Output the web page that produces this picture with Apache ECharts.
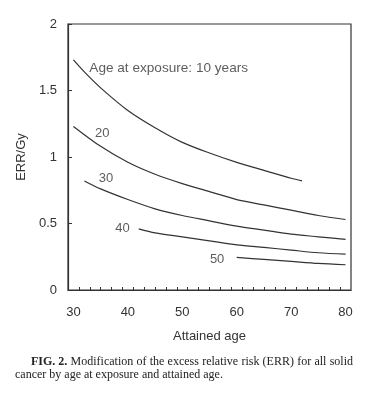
<!DOCTYPE html>
<html>
<head>
<meta charset="utf-8">
<script src="https://cdn.jsdelivr.net/npm/echarts@6/dist/echarts.min.js"></script>
<style>
html,body{margin:0;padding:0;background:#fff;}
#chart{width:370px;height:394px;}
</style>
</head>
<body>
<div id="chart"></div>
<script>
// ---- data ----
const ages10 = [30, 32, 35, 40, 45, 50, 55, 60, 65, 70, 72];
const err10  = [1.73, 1.64, 1.52, 1.35, 1.22, 1.11, 1.03, 0.96, 0.90, 0.84, 0.82];
const ages20 = [30, 35, 40, 45, 50, 55, 60, 65, 70, 75, 80];
const err20  = [1.23, 1.08, 0.96, 0.87, 0.80, 0.74, 0.68, 0.64, 0.60, 0.56, 0.53];
const ages30 = [32, 35, 40, 45, 50, 55, 60, 65, 70, 75, 80];
const err30  = [0.82, 0.76, 0.68, 0.61, 0.56, 0.52, 0.48, 0.45, 0.42, 0.40, 0.38];
const ages40 = [42, 45, 50, 55, 60, 65, 70, 75, 80];
const err40  = [0.46, 0.43, 0.40, 0.37, 0.34, 0.32, 0.30, 0.28, 0.27];
const ages50 = [60, 65, 70, 75, 80];
const err50  = [0.245, 0.23, 0.215, 0.20, 0.19];

const curveNames = ['10', '20', '30', '40', '50'];
const labelTexts = ['Age at exposure: 10 years', '20', '30', '40', '50'];
const labelAges  = [47.5, 35.3, 36.0, 39.0, 56.4];
const labelErr   = [1.67, 1.18, 0.84, 0.46, 0.233];

const xTickLabels = [30, 40, 50, 60, 70, 80];
const xMinorTicks = [31, 33, 35, 37, 39, 41, 43, 45, 47, 49, 51, 53, 55, 57, 59, 61, 63, 65, 67, 69, 71, 73, 75, 77, 79];
const yTickLabels = [0, 0.5, 1, 1.5, 2];

const xTitle = 'Attained age';
const yTitle = 'ERR/Gy';
const captionBold = 'FIG. 2.';
const captionLine1 = 'Modification of the excess relative risk (ERR) for all solid';
const captionLine2 = 'cancer by age at exposure and attained age.';

// ---- chart ----
const ink = '#333';
const sans = 'Liberation Sans, Arial, sans-serif';
const serif = 'Liberation Serif, Times New Roman, serif';

function pairs(a, v) { return a.map((x, i) => [x, v[i]]); }
const allAges = [ages10, ages20, ages30, ages40, ages50];
const allErr = [err10, err20, err30, err40, err50];

const lineSeries = curveNames.map((n, i) => ({
  name: n,
  type: 'line',
  data: pairs(allAges[i], allErr[i]),
  smooth: 0.3,
  symbol: 'none',
  lineStyle: { color: ink, width: 1.2 },
  silent: true
}));

// justified first caption line (as in the printed figure)
const capSize = 12;
const capLeft1 = 31, capRight1 = 353;
const mctx = document.createElement('canvas').getContext('2d');
const words = [{ t: captionBold, bold: true }].concat(captionLine1.split(' ').map(t => ({ t, bold: false })));
const widths = words.map(w => {
  mctx.font = (w.bold ? 'bold ' : '') + capSize + 'px ' + serif;
  return mctx.measureText(w.t).width;
});
const totalW = widths.reduce((a, b) => a + b, 0);
const gap = Math.max(2, (capRight1 - capLeft1 - totalW) / (words.length - 1));
const captionGraphics = [];
let cx = capLeft1;
words.forEach((w, i) => {
  captionGraphics.push({
    type: 'text', x: cx, y: 362,
    style: { text: w.t, font: (w.bold ? 'bold ' : '') + capSize + 'px ' + serif, fill: '#222', verticalAlign: 'middle' }
  });
  cx += widths[i] + gap;
});
captionGraphics.push({
  type: 'text', x: 15, y: 375,
  style: { text: captionLine2, font: capSize + 'px ' + serif, fill: '#222', verticalAlign: 'middle' }
});

const chart = echarts.init(document.getElementById('chart'), null, { renderer: 'canvas' });
chart.setOption({
  animation: false,
  backgroundColor: '#fff',
  grid: {
    left: 68, top: 24, right: 19, bottom: 104,
    show: true, borderColor: ink, borderWidth: 1.2, backgroundColor: 'transparent'
  },
  xAxis: {
    type: 'value', min: 29, max: 81,
    name: xTitle, nameLocation: 'middle', nameGap: 40,
    nameTextStyle: { fontFamily: sans, fontSize: 13, color: ink },
    axisLine: { show: true, lineStyle: { color: ink, width: 1.2 } },
    axisTick: { show: true, inside: true, length: 3, customValues: xMinorTicks, lineStyle: { color: ink, width: 1 } },
    axisLabel: { customValues: xTickLabels, fontFamily: sans, fontSize: 13, color: ink, margin: 16 },
    splitLine: { show: false }
  },
  yAxis: {
    type: 'value', min: 0, max: 2, interval: 0.5,
    name: yTitle, nameLocation: 'middle', nameGap: 38, nameRotate: 90,
    nameTextStyle: { fontFamily: sans, fontSize: 13, color: ink },
    axisLine: { show: true, lineStyle: { color: ink, width: 1.2 } },
    axisTick: { show: true, inside: true, length: 4, customValues: yTickLabels, lineStyle: { color: ink, width: 1 } },
    axisLabel: { customValues: yTickLabels, fontFamily: sans, fontSize: 13, color: ink, margin: 11 },
    splitLine: { show: false }
  },
  series: lineSeries.concat([{
    type: 'scatter',
    symbolSize: 0,
    silent: true,
    data: labelTexts.map((t, i) => ({
      value: [labelAges[i], labelErr[i]], name: t,
      label: i === 0 ? { fontSize: 13.6 } : undefined
    })),
    label: {
      show: true, position: 'inside', formatter: p => p.name,
      fontFamily: sans, fontSize: 13, color: ink
    }
  }]),
  graphic: captionGraphics
});
</script>
</body>
</html>
